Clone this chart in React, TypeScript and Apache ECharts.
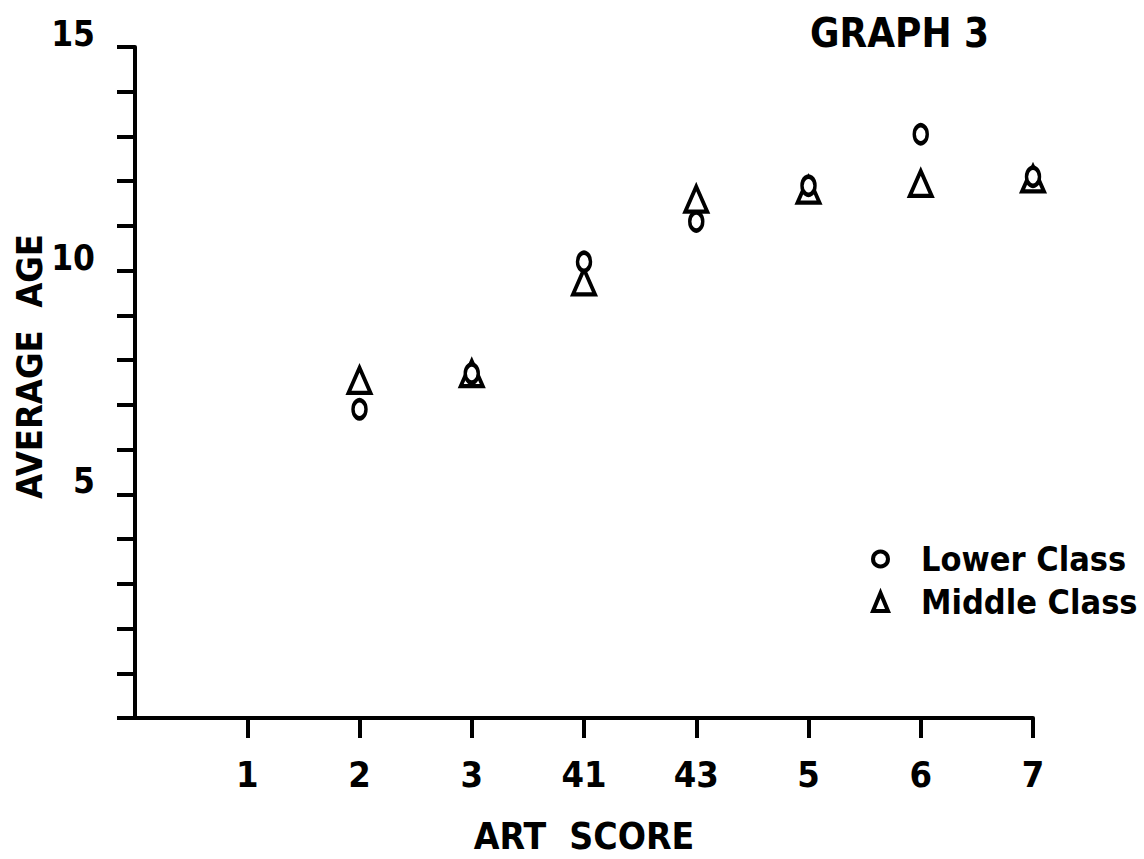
import React, { useEffect, useRef } from "react";
import * as echarts from "echarts";

const categories = ["", "1", "2", "3", "41", "43", "5", "6", "7"];
const lowerClass: (number | null)[] = [null, null, 6.9, 7.7, 10.2, 11.1, 11.9, 13.05, 12.1];
const middleClass: (number | null)[] = [null, null, 7.55, 7.7, 9.75, 11.6, 11.8, 11.95, 12.05];
const yTickLabels = [5, 10, 15];

const FONT = "'DejaVu Sans Condensed', 'DejaVu Sans', sans-serif";

export default function App() {
  const ref = useRef<HTMLDivElement>(null);
  useEffect(() => {
    if (!ref.current) return;
    const chart = echarts.init(ref.current, undefined, { renderer: "svg" });
    const toPairs = (arr: (number | null)[]) =>
      arr.map((v, i) => (v === null ? null : [i, v])).filter((d) => d !== null);
    const markerStyle = { color: "#fff", borderColor: "#000", borderWidth: 4, opacity: 1 };
    chart.setOption({
      animation: false,
      backgroundColor: "#ffffff",
      title: {
        text: "GRAPH 3",
        left: 805,
        top: 8,
        textStyle: { fontFamily: FONT, fontSize: 40, fontWeight: "bold", color: "#000" },
      },
      legend: {
        orient: "vertical",
        left: 866,
        top: 537,
        itemWidth: 15,
        itemHeight: 18,
        itemGap: 9,
        textStyle: {
          fontFamily: FONT,
          fontSize: 34,
          fontWeight: "bold",
          color: "#000",
          padding: [0, 0, 0, 28],
        },
        data: [
          { name: "Lower Class", icon: "circle", itemStyle: markerStyle },
          { name: "Middle Class", icon: "triangle", itemStyle: markerStyle },
        ],
      },
      grid: { left: 135, right: 111, top: 47, bottom: 141, containLabel: false, outerBoundsMode: "none" },
      xAxis: {
        type: "category",
        data: categories,
        boundaryGap: false,
        name: "ART  SCORE",
        nameLocation: "middle",
        nameGap: 100,
        nameMoveOverlap: false,
        nameTextStyle: {
          fontFamily: FONT,
          fontSize: 37,
          lineHeight: 36,
          fontWeight: "bold",
          color: "#000",
        },
        axisLine: { lineStyle: { color: "#000", width: 4 } },
        axisTick: {
          show: true,
          length: 20,
          inside: false,
          interval: (index: number) => index !== 0,
          lineStyle: { color: "#000", width: 4 },
        },
        axisLabel: {
          margin: 38,
          interval: 0,
          fontFamily: FONT,
          fontSize: 36,
          fontWeight: "bold",
          color: "#000",
        },
        splitLine: { show: false },
      },
      yAxis: {
        type: "value",
        min: 0,
        max: 15,
        interval: 1,
        name: "AVERAGE  AGE",
        nameLocation: "middle",
        nameRotate: 90,
        nameGap: 88,
        nameMoveOverlap: false,
        nameTextStyle: {
          fontFamily: FONT,
          fontSize: 36,
          fontWeight: "bold",
          color: "#000",
          padding: [0, 0, 0, 32],
        },
        axisLine: { show: true, lineStyle: { color: "#000", width: 4 } },
        axisTick: { show: true, length: 18, lineStyle: { color: "#000", width: 4 } },
        axisLabel: {
          margin: 40,
          fontFamily: FONT,
          fontSize: 35,
          fontWeight: "bold",
          color: "#000",
          verticalAlign: "bottom",
          lineHeight: 26,
          formatter: (v: number) => (yTickLabels.includes(v) ? String(v) : ""),
        },
        splitLine: { show: false },
      },
      series: [
        {
          name: "Middle Class",
          type: "scatter",
          symbol: "triangle",
          symbolSize: [22, 25],
          itemStyle: markerStyle,
          data: toPairs(middleClass),
          z: 2,
        },
        {
          name: "Lower Class",
          type: "scatter",
          symbol: "circle",
          symbolSize: [13, 18],
          itemStyle: markerStyle,
          data: toPairs(lowerClass),
          z: 3,
        },
      ],
    });
    return () => chart.dispose();
  }, []);
  return (
    <div
      ref={ref}
      style={{ position: "fixed", left: 0, top: 0, width: 1144, height: 859, background: "#fff" }}
    />
  );
}
